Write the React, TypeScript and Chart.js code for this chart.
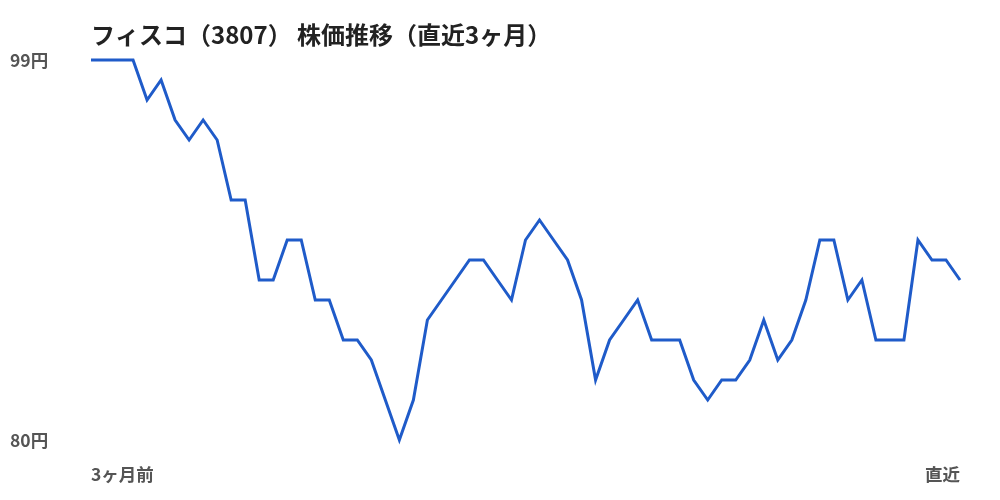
import React, {useEffect, useRef} from 'react'
import {Chart, registerables} from 'chart.js'

Chart.register(...registerables)

const title = 'フィスコ（3807） 株価推移（直近3ヶ月）'

// daily closes over the last 3 months (円)
const prices = [
  99, 99, 99, 99, 97, 98, 96, 95, 96, 95, 92, 92, 88, 88, 90, 90, 87, 87, 85, 85, 84,
  82, 80, 82, 86, 87, 88, 89, 89, 88, 87, 90, 91, 90, 89, 87, 83, 85, 86, 87, 85, 85,
  85, 83, 82, 83, 83, 84, 86, 84, 85, 87, 90, 90, 87, 88, 85, 85, 85, 90, 89, 89, 88,
]
const days = prices.map((_, i) => String(i))
const xTickLabels = ['3ヶ月前', '直近']
const yTicks = [80, 99]

const FONT = '"Noto Sans CJK JP", "Noto Sans", sans-serif'

const titlePlugin = {
  id: 'leftTitle',
  afterDraw(chart: any) {
    const {ctx, chartArea} = chart
    ctx.save()
    ctx.font = `bold 24px ${FONT}`
    ctx.fillStyle = '#222'
    ctx.textBaseline = 'middle'
    ctx.textAlign = 'left'
    ctx.fillText(title, chartArea.left, 35)
    ctx.restore()
  },
}

const PriceChart: React.FC = () => {
  const chartRef = useRef<HTMLCanvasElement | null>(null)

  useEffect(() => {
    if (!chartRef.current) {
      return
    }

    const chart = new Chart(chartRef.current, {
      type: 'line',
      data: {
        labels: days,
        datasets: [
          {
            label: '株価',
            data: prices,
            borderColor: '#1f5bc9',
            borderWidth: 3,
            pointRadius: 0,
            tension: 0,
            fill: false,
            clip: false,
          },
        ],
      },
      options: {
        responsive: false,
        animation: false,
        layout: {
          padding: {left: 10, right: 40, top: 60, bottom: 0},
        },
        plugins: {
          legend: {display: false},
          tooltip: {enabled: false},
        },
        scales: {
          x: {
            grid: {display: false, drawTicks: false},
            border: {display: false},
            afterBuildTicks: (axis: any) => {
              axis.ticks = [{value: 0}, {value: prices.length - 1}]
            },
            afterFit: (scale: any) => {
              scale.height = 60
            },
            ticks: {
              autoSkip: false,
              maxRotation: 0,
              align: 'inner',
              padding: 24,
              color: '#555',
              font: {family: FONT, size: 17.5, weight: 'bold'},
              callback: (_v: any, i: number) => xTickLabels[i],
            },
          },
          y: {
            min: 80,
            max: 99,
            grid: {display: false},
            border: {display: false},
            afterBuildTicks: (axis: any) => {
              axis.ticks = yTicks.map((v) => ({value: v}))
            },
            afterFit: (scale: any) => {
              scale.width = 81
            },
            ticks: {
              crossAlign: 'far',
              color: '#555',
              font: {family: FONT, size: 17.5, weight: 'bold'},
              callback: (v: any) => `${v}円`,
            },
          },
        },
      },
      plugins: [titlePlugin],
    })

    return () => {
      chart.destroy()
    }
  }, [])

  return (
    <div style={{position: 'fixed', left: 0, top: 0, width: 1000, height: 500, background: '#fff'}}>
      <canvas ref={chartRef} width={1000} height={500}></canvas>
    </div>
  )
}

export default function App() {
  return <PriceChart />
}
